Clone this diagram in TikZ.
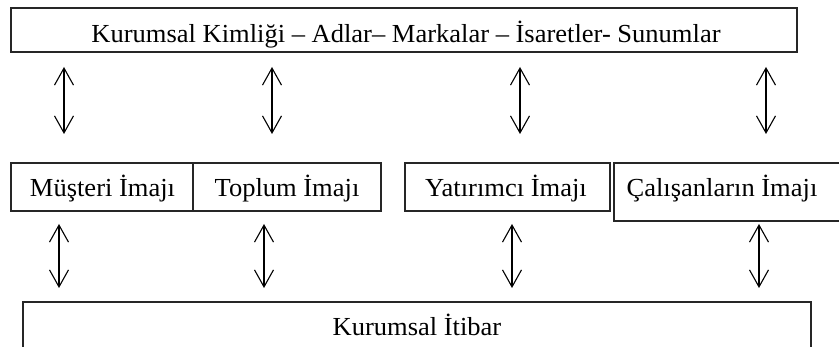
\documentclass[tikz,border=0pt]{standalone}
\usepackage{fontspec}
\setmainfont{Liberation Serif}[FakeStretch=1.02]
\usetikzlibrary{arrows.meta}

\begin{document}
\begin{tikzpicture}[x=1pt,y=-1pt,
  box/.style={draw=black!85, line width=1.2pt, rectangle, inner sep=0pt},
  lbl/.style={anchor=base, inner sep=0pt, font=\fontsize{26}{30}\selectfont},
  twoway/.style={line width=1.1pt, {Straight Barb[length=17pt,width=19pt,line width=1.1pt]}-{Straight Barb[length=17pt,width=19pt,line width=1.1pt]}}
]
\useasboundingbox (0,0) rectangle (839,347);

% top frame: identity elements
\node[box, minimum width=786pt, minimum height=44pt] (kimlik) at (404,30) {};
\node[lbl] (kimliktxt) at (406,43) {Kurumsal Kimliği – Adlar– Markalar – İsaretler- Sunumlar};

% middle row: the four images
\node[box, minimum width=182pt, minimum height=48pt] (musteri) at (102,187) {};
\node[box, minimum width=188pt, minimum height=48pt] (toplum) at (287,187) {};
\node[box, minimum width=205pt, minimum height=48pt] (yatirimci) at (507.5,187) {};
\node[box, minimum width=228pt, minimum height=58pt] (calisan) at (728,192) {};
\node[lbl] (musteritxt) at (102.5,197) {Müşteri İmajı};
\node[lbl] (toplumtxt) at (287,197) {Toplum İmajı};
\node[lbl] (yatirimcitxt) at (506,197) {Yatırımcı İmajı};
\node[lbl] (calisantxt) at (722,197) {Çalışanların İmajı};

% bottom frame: reputation
\node[box, minimum width=788pt, minimum height=46pt] (itibar) at (417,325) {};
\node[lbl] (itibartxt) at (417,336) {Kurumsal İtibar};

% ends of the upper two-way arrows
\coordinate (u1a) at (64,67);  \coordinate (u1b) at (64,134);
\coordinate (u2a) at (272,67); \coordinate (u2b) at (272,134);
\coordinate (u3a) at (520,67); \coordinate (u3b) at (520,134);
\coordinate (u4a) at (766,67); \coordinate (u4b) at (766,134);
% ends of the lower two-way arrows
\coordinate (l1a) at (59,224);  \coordinate (l1b) at (59,288);
\coordinate (l2a) at (264,224); \coordinate (l2b) at (264,288);
\coordinate (l3a) at (512,224); \coordinate (l3b) at (512,288);
\coordinate (l4a) at (759,224); \coordinate (l4b) at (759,288);

\foreach \i in {1,2,3,4}{
  \draw[twoway] (u\i a) -- (u\i b);
  \draw[twoway] (l\i a) -- (l\i b);
}
\end{tikzpicture}
\end{document}
